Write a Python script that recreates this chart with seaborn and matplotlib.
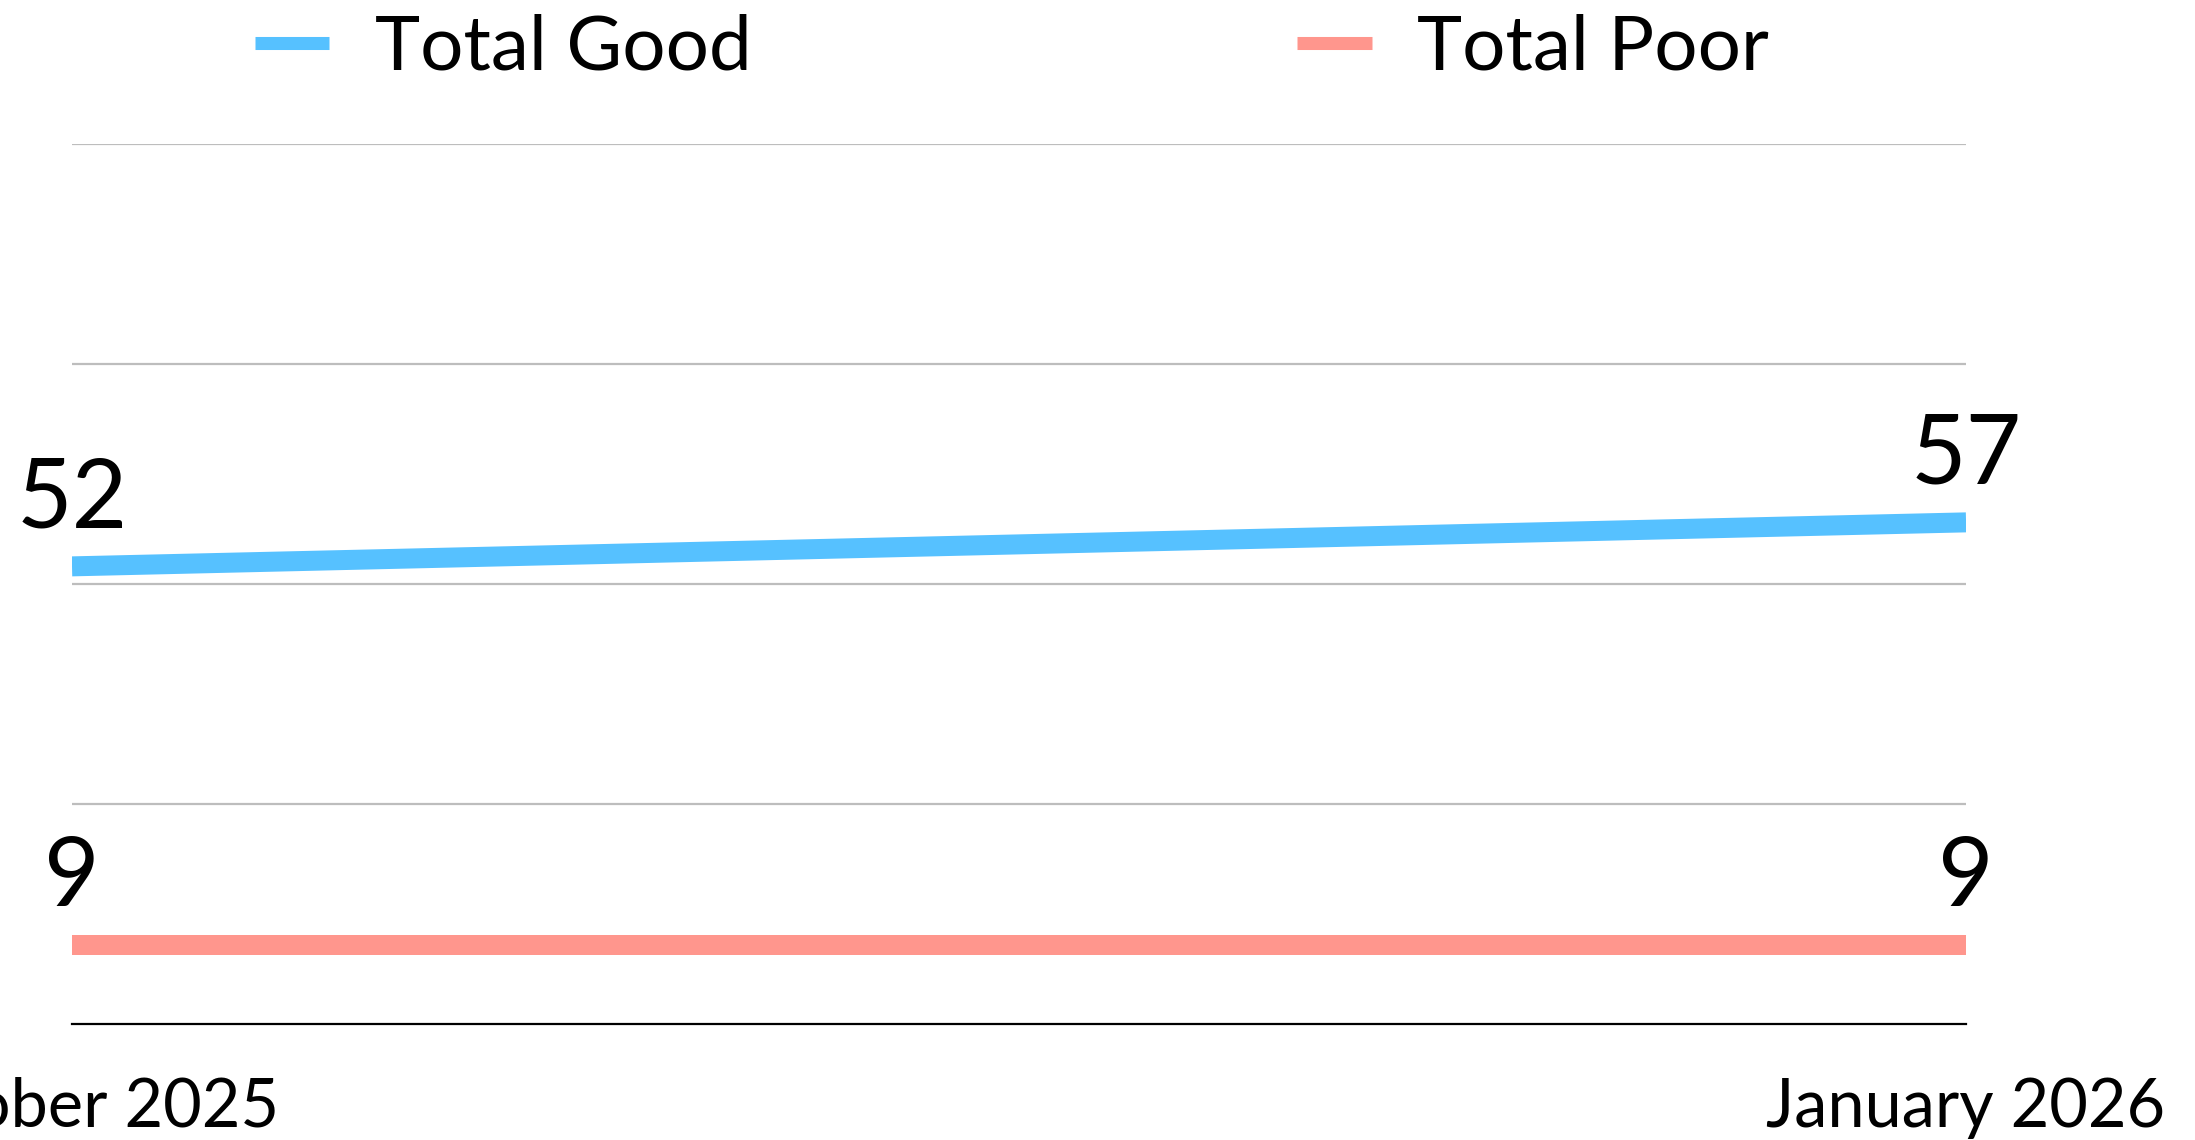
import pandas as pd
import matplotlib.pyplot as plt
import seaborn as sns

# chart values
months = ["October 2025", "January 2026"]
good = [52, 57]
poor = [9, 9]
series_names = ["Total Good", "Total Poor"]
colors = ["#56C1FF", "#FF968D"]
grid_ticks = [25, 50, 75, 100]

sns.set_style("white")
plt.rcParams["font.family"] = ["Lato", "DejaVu Sans"]
plt.rcParams["text.color"] = "black"
plt.rcParams["xtick.color"] = "black"

df = pd.DataFrame({
    "month": months * 2,
    "value": good + poor,
    "series": [series_names[0]] * len(months) + [series_names[1]] * len(months),
})

fig = plt.figure(figsize=(21.95, 11.4), dpi=100)
ax = fig.add_axes([0.0328, 0.1018, 0.8629, 0.7719])

sns.lineplot(data=df, x="month", y="value", hue="series", hue_order=series_names,
             palette=colors, linewidth=14.4, solid_capstyle="butt", ax=ax,
             legend=False, zorder=3)

ax.set_xlim(0, len(months) - 1)
ax.set_ylim(0, 100)
ax.set_yticks(grid_ticks)
ax.set_yticklabels([])
ax.yaxis.grid(True, color="#bdbdbd", linewidth=1.6)
ax.xaxis.grid(False)
ax.set_xlabel("")
ax.set_ylabel("")
ax.tick_params(axis="x", length=0, labelsize=48, pad=38, labelcolor="black")
ax.tick_params(axis="y", length=0)
for side in ["top", "right", "left"]:
    ax.spines[side].set_visible(False)
ax.spines["bottom"].set_color("black")
ax.spines["bottom"].set_linewidth(1.6)
ax.spines["bottom"].set_zorder(4)

# value labels above each point
for vals in [good, poor]:
    for i, v in enumerate(vals):
        ax.annotate(str(v), (i, v), xytext=(0, 28), textcoords="offset points",
                    ha="center", va="baseline", fontsize=69, color="black",
                    annotation_clip=False)

# legend across the top
handles = [plt.Line2D([], [], color=c, linewidth=9.4, solid_capstyle="butt") for c in colors]
fig.legend(handles, series_names, loc="center left", bbox_to_anchor=(0.116, 0.958),
           ncol=2, frameon=False, fontsize=55, handlelength=0.97, handletextpad=0.6,
           columnspacing=7.15, borderpad=0, borderaxespad=0, labelcolor="black")

fig.savefig("out.png", dpi=100)
